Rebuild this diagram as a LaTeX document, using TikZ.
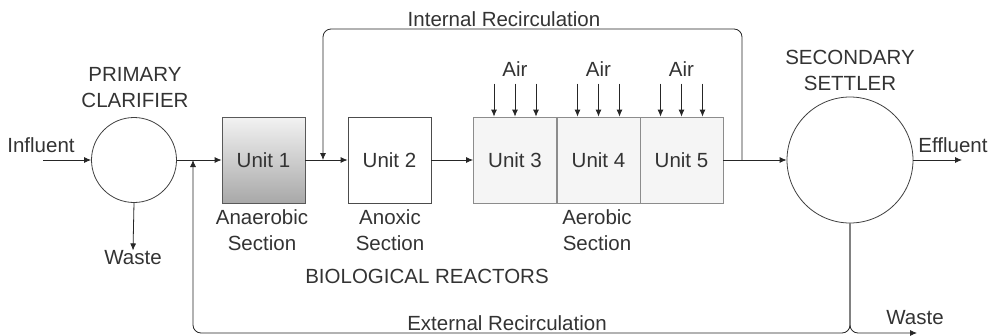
\documentclass[tikz,border=0pt]{standalone}
\usepackage{fontspec}
\setmainfont{Liberation Sans}
\usepackage{tikz}
\usetikzlibrary{arrows.meta}
\usetikzlibrary{calc}

\begin{document}
\begin{tikzpicture}[x=1pt, y=-1pt, line width=0.8pt, draw=black!85, text=black!80,
    font=\fontsize{20.5}{26}\selectfont,
    tank/.style={circle, draw=black!75, fill=white, inner sep=0pt},
    unit/.style={rectangle, draw=black!70, fill=white, minimum width=83pt, minimum height=86pt, inner sep=0pt},
    aero/.style={unit, draw=black!45, fill=black!4},
    flow/.style={-{Latex[length=7pt, width=6pt]}},
    lbl/.style={align=center, inner sep=0pt}]
  \useasboundingbox (0,0) rectangle (999,335);

  % tanks and reactors
  \node[tank, minimum size=85pt] (pc) at (134, 160) {};
  \node[tank, minimum size=126pt] (ss) at (850, 160) {};

  \node[unit, draw=black!65, top color=black!5, bottom color=black!34] (u1) at (263.5, 160) {Unit 1};
  \node[unit] (u2) at (389.5, 160) {Unit 2};
  \node[aero] (u3) at (515, 160) {Unit 3};
  \node[aero] (u4) at (598.5, 160) {Unit 4};
  \node[aero] (u5) at (681.5, 160) {Unit 5};

  % labels
  \node[lbl] (infl) at (41, 145) {Influent};
  \node[lbl] (pcname) at (135, 88) {PRIMARY\\CLARIFIER};
  \node[lbl] (pcw) at (133, 258) {Waste};
  \node[lbl] (ssname) at (850, 70) {SECONDARY\\SETTLER};
  \node[lbl] (effl) at (953, 145) {Effluent};
  \node[lbl] (ssw) at (915, 318) {Waste};
  \node[lbl] (s1) at (262, 230) {Anaerobic\\Section};
  \node[lbl] (s2) at (390, 230) {Anoxic\\Section};
  \node[lbl] (s3) at (597, 230) {Aerobic\\Section};
  \node[lbl] (bio) at (427, 276) {BIOLOGICAL REACTORS};
  \node[lbl] (irtxt) at (504, 19) {Internal Recirculation};
  \node[lbl] (ertxt) at (507, 323) {External Recirculation};

  \coordinate (in) at (43, 160);
  \coordinate (out) at (962, 160);
  \coordinate (irin) at (323, 160);
  \coordinate (irout) at (742, 160);
  \coordinate (erin) at (193, 160);
  \coordinate (wout) at (917, 333);
  \coordinate (top) at (0, 29);
  \coordinate (bot) at (0, 333);

  % main line
  \draw[flow] (in) -- (pc.west);
  \draw[flow] (pc.east) -- (u1.west);
  \draw[flow] (u1.east) -- (u2.west);
  \draw[flow] (u2.east) -- (u3.west);
  \draw[flow] (u5.east) -- (ss.west);
  \draw[flow] (ss.east) -- (out);
  \draw[flow] (pc.south) -- (pcw.north);

  % recirculations
  \draw[flow, rounded corners=8pt] (irout) |- (irin |- top) -- (irin);
  \draw[flow, rounded corners=8pt] (ss.south) |- (erin |- bot) -- (erin);
  \draw[flow, rounded corners=8pt] (ss.south) |- (wout);

  % air
  \foreach \u in {3,4,5} {
    \node[lbl] (air\u) at ([yshift=48pt]u\u.north) {Air};
    \foreach \dx in {-21,0,21}
      \draw[flow] ([xshift=\dx pt, yshift=33pt]u\u.north) -- ([xshift=\dx pt]u\u.north);
  }
\end{tikzpicture}
\end{document}
